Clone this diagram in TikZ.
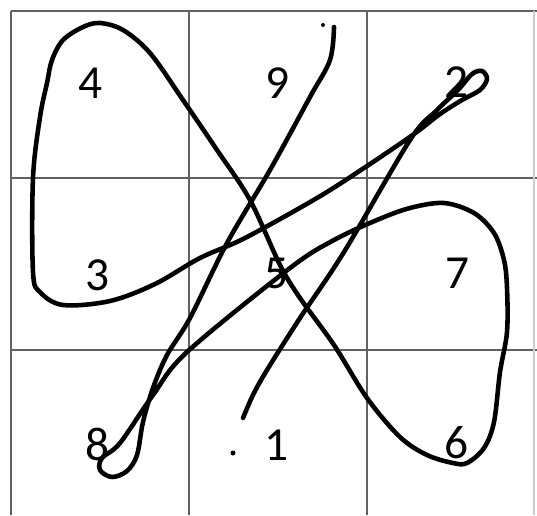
\documentclass[tikz,border=0pt]{standalone}
\usepackage{fontspec}
\setmainfont{Carlito}
\usetikzlibrary{calc}

\begin{document}
\begin{tikzpicture}[x=0.02cm, y=-0.02cm,
    gridline/.style={draw=black!62, line width=0.8pt},
    pen/.style={line width=2.6pt, line cap=round, line join=round},
    digit/.style={inner sep=0pt, font=\fontsize{27}{30}\selectfont}]
    \useasboundingbox (0,0) rectangle (537,515);
    % grid
    \draw[gridline] (11,11) -- (537,11);
    \draw[gridline] (11,178) -- (537,178);
    \draw[gridline] (11,350) -- (537,350);
    \foreach \gx in {11,189,367}
        \draw[gridline] (\gx,11) -- (\gx,515);
    \draw[draw=black!20, line width=0.6pt] (534,11) -- (534,515);
    % numbers
    \node[digit] (n4) at (91,83) {4};
    \node[digit] (n9) at (278,83) {9};
    \node[digit] (n2) at (457,82) {2};
    \node[digit] (n3) at (98,275) {3};
    \node[digit] (n5) at (277,273) {5};
    \node[digit] (n7) at (458,273) {7};
    \node[digit] (n8) at (98,444) {8};
    \node[digit] (n1) at (277,445) {1};
    \node[digit] (n6) at (457,443) {6};
    % dots
    \fill (323,25) circle (2);
    \fill (233,453) circle (2.5);
    % the stroke 1-2-3-4-5-6-7-8-9
    \draw[pen] plot[smooth, tension=0.55] coordinates {
        (243,418) (253,395) (267,370) (300,318) (344,252) (410,140)
        (436,111) (458,90) (472,74) (482,71) (487,79) (480,90)
        (462,100) (440,114) (414,134) (367,166) (317,198) (245,238)
        (200,258) (155,284) (110,301) (63,305) (40,292) (33,272) (33,178)
        (40,117) (47,83) (52,60) (63,40) (83,27) (100,23) (123,30) (150,53)
        (183,100) (217,150) (250,200) (280,265) (300,298) (334,345) (367,398)
        (400,437) (427,455) (453,463) (467,463) (484,448) (494,422) (500,372)
        (507,332) (507,288) (504,260) (494,233) (474,213) (444,203) (410,208)
        (377,220) (334,240) (290,268) (187,352) (153,395) (120,443)
        (102,458) (100,470) (112,477) (127,471) (137,455) (143,422) (153,388)
        (167,355) (190,318) (227,243) (270,170) (310,97)
        (330,60) (334,27)};
\end{tikzpicture}
\end{document}
